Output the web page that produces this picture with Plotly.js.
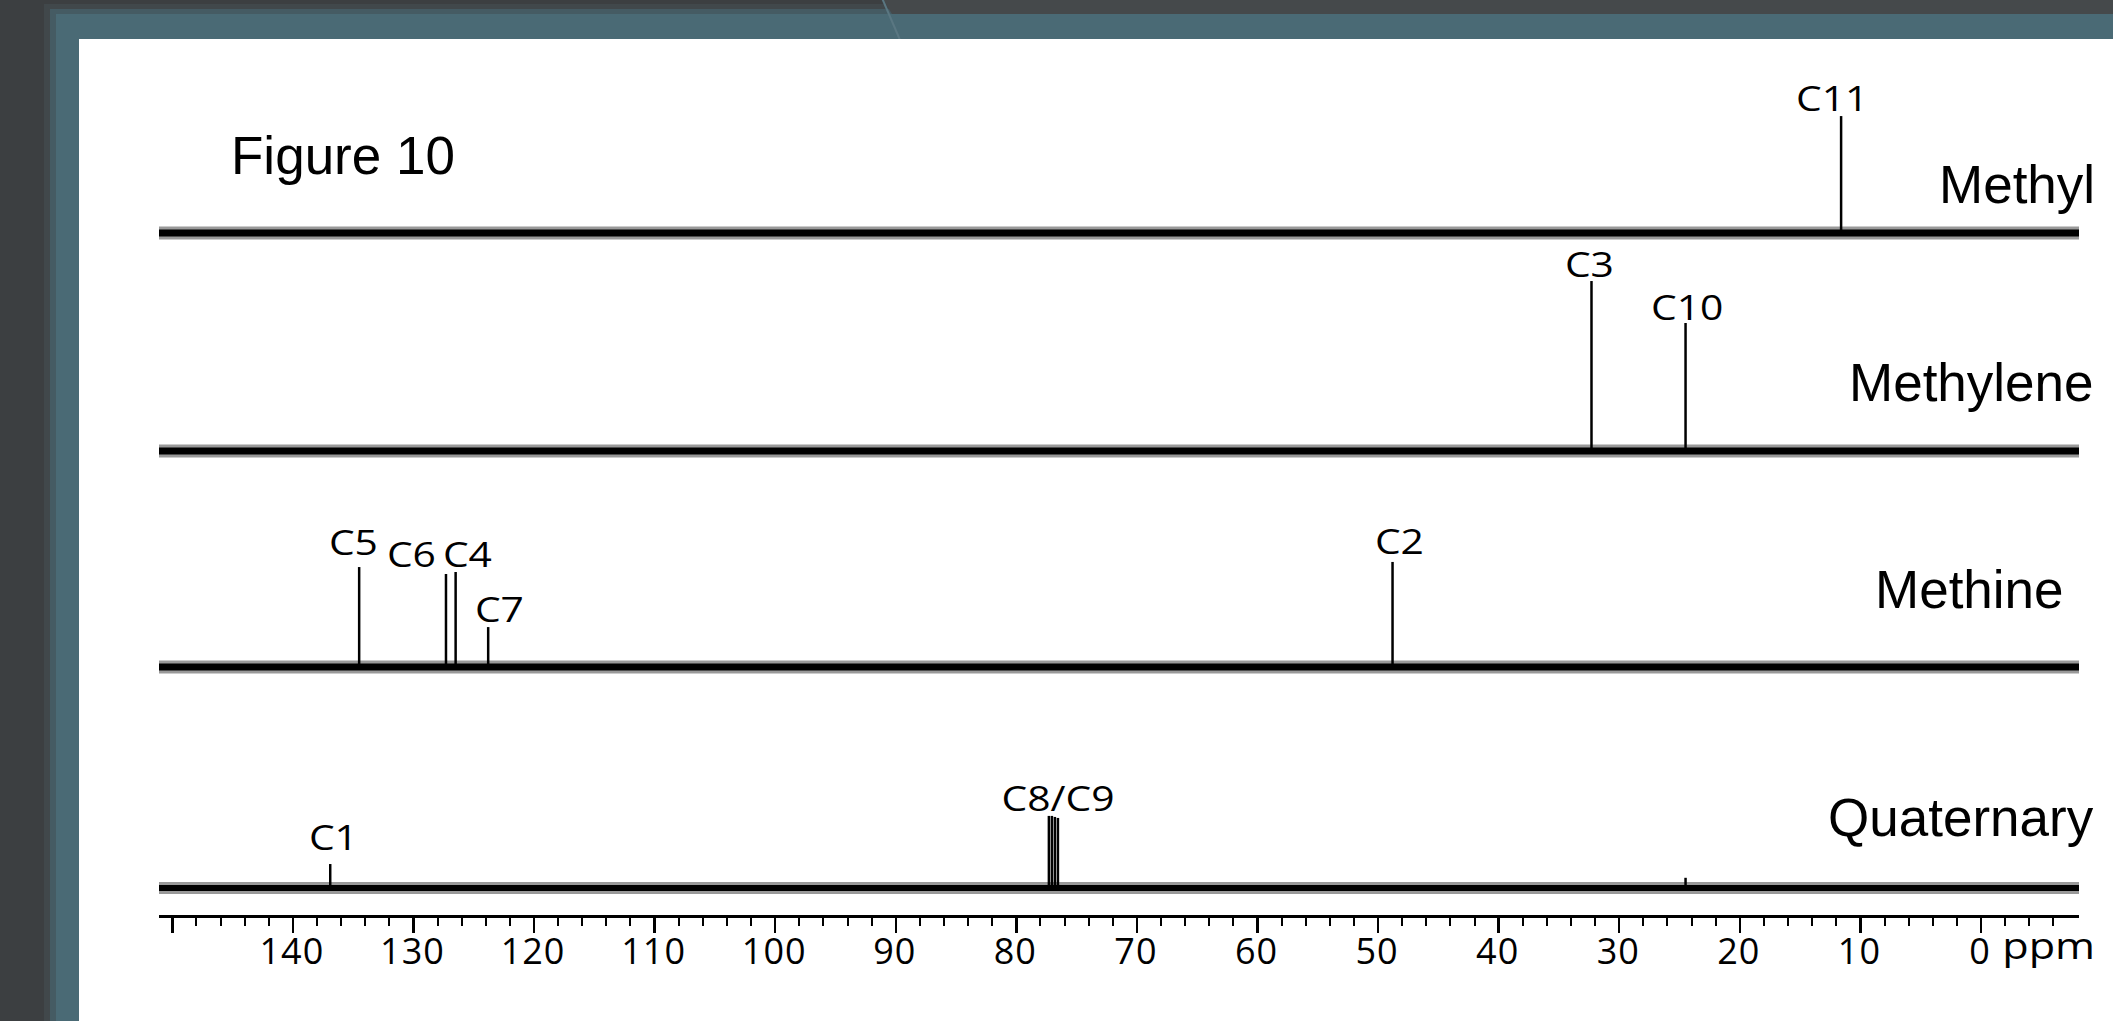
<!DOCTYPE html>
<html><head><meta charset="utf-8">
<script src="https://cdn.plot.ly/plotly-3.0.1.min.js"></script>
<style>
html,body{margin:0;padding:0;background:#3c3f41;overflow:hidden}
#chart{width:2113px;height:1021px}
.xtick text{letter-spacing:1px}
</style>
</head><body><div id="chart"></div><script>
// ---------- DATA ----------
const windowStartPpm = 151.1;   // spectral window (left edge)
const windowEndPpm = -8.13;     // spectral window (right edge)

const spectrumNames = ['Methyl', 'Methylene', 'Methine', 'Quaternary'];

const methylPpm = [11.6];
const methylIntensity = [68.8];
const methylLabels = ['C11'];

const methylenePpm = [32.3, 24.5];
const methyleneIntensity = [100, 75.3];
const methyleneLabels = ['C3', 'C10'];

const methinePpm = [134.5, 127.3, 126.5, 123.8, 48.8];
const methineIntensity = [58.8, 54.7, 55.9, 23.5, 61.8];
const methineLabels = ['C5', 'C6', 'C4', 'C7', 'C2'];

const quaternaryPpm = [136.9, 77.3, 77.05, 76.8, 76.55, 24.5];
const quaternaryIntensity = [14.1, 42.4, 42.4, 41.8, 41.2, 6];
const quaternaryLabels = ['C1', '', 'C8/C9', '', '', ''];

const tickValues = [150, 140, 130, 120, 110, 100, 90, 80, 70, 60, 50, 40, 30, 20, 10, 0];
const tickLabels = ['', '140', '130', '120', '110', '100', '90', '80', '70', '60', '50', '40', '30', '20', '10', '0'];
const axisUnit = 'ppm';
const figureTitle = 'Figure 10';

// ---------- STYLE / LAYOUT ----------
const W = 2113, H = 1021;
const L = 159, R = 2079, T = 20, B = 915;
const pxX = x => (x - L) / (R - L);
const pxY = y => (B - y) / (B - T);

// label offsets (px) relative to the peak top, parallel to the label arrays
const methylShift = [[-9, 18]];
const methyleneShift = [[-2, 17], [1, 16]];
const methineShift = [[-6, 25], [-34, 20], [12, 18], [11, 18], [7, 21]];
const quaternaryShift = [[3, 27], [0, 0], [6, 18], [0, 0], [0, 0], [0, 0]];

const spectra = [
  {ppm: methylPpm, inten: methylIntensity, labels: methylLabels, shift: methylShift, axis: 'y4', base: 7},
  {ppm: methylenePpm, inten: methyleneIntensity, labels: methyleneLabels, shift: methyleneShift, axis: 'y3', base: 7},
  {ppm: methinePpm, inten: methineIntensity, labels: methineLabels, shift: methineShift, axis: 'y2', base: 7},
  {ppm: quaternaryPpm, inten: quaternaryIntensity, labels: quaternaryLabels, shift: quaternaryShift, axis: 'y', base: 6}
];

const traces = [];
const annotations = [];
const stretched = [];
const labelFont = {family: 'Open Sans, Noto Sans, sans-serif', size: 34, color: '#000'};

spectra.forEach(s => {
  // fuzzy halo of the noisy baseline
  traces.push({
    x: [windowStartPpm, windowEndPpm], y: [0, 0], xaxis: 'x', yaxis: s.axis,
    type: 'scatter', mode: 'lines', line: {color: 'rgba(0,0,0,0.4)', width: s.base + 6},
    hoverinfo: 'skip', showlegend: false
  });
  traces.push({
    x: [windowStartPpm, windowEndPpm], y: [0, 0], xaxis: 'x', yaxis: s.axis,
    type: 'scatter', mode: 'lines', line: {color: '#000', width: s.base},
    hoverinfo: 'skip', showlegend: false
  });
  const xs = [], ys = [];
  s.ppm.forEach((p, i) => { xs.push(p, p, null); ys.push(0, s.inten[i], null); });
  traces.push({
    x: xs, y: ys, xaxis: 'x', yaxis: s.axis, type: 'scatter', mode: 'lines',
    line: {color: '#000', width: 2.5}, hoverinfo: 'skip', showlegend: false, connectgaps: false
  });
  s.labels.forEach((lab, i) => {
    if (!lab) return;
    stretched.push(annotations.length);
    annotations.push({
      text: lab, x: s.ppm[i], y: s.inten[i], xref: 'x', yref: s.axis,
      xanchor: 'center', yanchor: 'middle', showarrow: false,
      xshift: s.shift[i][0], yshift: s.shift[i][1], font: labelFont
    });
  });
});

// series names
const nameFont = {family: 'Liberation Sans, Arial, sans-serif', size: 53, color: '#000'};
const namePos = [[2097, 185], [2096, 383], [2066, 589], [2096, 817]];
spectrumNames.forEach((n, i) => {
  annotations.push({text: n, xref: 'paper', yref: 'paper', x: pxX(namePos[i][0]), y: pxY(namePos[i][1]),
    xanchor: 'right', yanchor: 'middle', showarrow: false, font: nameFont});
});
annotations.push({text: figureTitle, xref: 'paper', yref: 'paper', x: pxX(229), y: pxY(155),
  xanchor: 'left', yanchor: 'middle', showarrow: false, font: nameFont});
stretched.push(annotations.length);
annotations.push({text: axisUnit, xref: 'paper', yref: 'paper', x: pxX(2048), y: pxY(946),
  xanchor: 'center', yanchor: 'middle', showarrow: false,
  font: {family: 'Open Sans, Noto Sans, sans-serif', size: 36, color: '#000'}});

const yRange = [-15.88, 112.35];
const yAx = d => ({domain: d, range: yRange, visible: false, fixedrange: true, showgrid: false, zeroline: false});

const minorVals = [];
for (let v = 150; v >= -6; v -= 2) if (v % 10 !== 0) minorVals.push(v);

const P = (x, y) => pxX(x) + ',' + pxY(y);

const layout = {
  width: W, height: H,
  margin: {l: L, r: W - R, t: T, b: H - B, pad: 0},
  paper_bgcolor: '#3c3f41', plot_bgcolor: 'rgba(0,0,0,0)',
  showlegend: false,
  xaxis: {
    range: [windowStartPpm, windowEndPpm], anchor: 'y', showgrid: false, zeroline: false,
    showline: true, linecolor: '#000', linewidth: 2.5,
    ticks: 'outside', ticklen: 15, tickwidth: 2.5, tickcolor: '#000',
    tickmode: 'array', tickvals: tickValues, ticktext: tickLabels,
    tickfont: {family: 'Open Sans, Noto Sans, sans-serif', size: 36, color: '#000'},
    ticklabelstandoff: -12, ticklabelshift: 1,
    minor: {tickmode: 'array', tickvals: minorVals, ticks: 'outside', ticklen: 8, tickwidth: 2, tickcolor: '#000', showgrid: false},
    fixedrange: true
  },
  yaxis: yAx([0, 0.2436]),
  yaxis2: yAx([0.2469, 0.4905]),
  yaxis3: yAx([0.4883, 0.7318]),
  yaxis4: yAx([0.7318, 0.9754]),
  annotations: annotations,
  shapes: [
    {type: 'rect', xref: 'paper', yref: 'paper', x0: pxX(44), x1: pxX(W + 5), y0: pxY(H + 5), y1: pxY(4), fillcolor: '#41484b', line: {width: 0}, layer: 'below'},
    {type: 'rect', xref: 'paper', yref: 'paper', x0: pxX(50), x1: pxX(W + 5), y0: pxY(H + 5), y1: pxY(9), fillcolor: '#455b63', line: {width: 0}, layer: 'below'},
    {type: 'rect', xref: 'paper', yref: 'paper', x0: pxX(56), x1: pxX(W + 5), y0: pxY(H + 5), y1: pxY(14), fillcolor: '#4a6a75', line: {width: 0}, layer: 'below'},
    {type: 'path', xref: 'paper', yref: 'paper', path: 'M' + P(882, -2) + 'L' + P(W + 5, -2) + 'L' + P(W + 5, 14) + 'L' + P(892, 14) + 'Z', fillcolor: '#45494b', line: {width: 0}, layer: 'below'},
    {type: 'path', xref: 'paper', yref: 'paper', path: 'M' + P(882, -2) + 'L' + P(900, 40), line: {color: '#5a7782', width: 2}, layer: 'below'},
    {type: 'rect', xref: 'paper', yref: 'paper', x0: pxX(79), x1: pxX(W + 5), y0: pxY(H + 5), y1: pxY(39), fillcolor: '#ffffff', line: {width: 0}, layer: 'below'}
  ]
};

Plotly.newPlot('chart', traces, layout, {displayModeBar: false, staticPlot: true}).then(gd => {
  const groups = gd.querySelectorAll('g.annotation');
  groups.forEach(g => {
    const idx = +g.getAttribute('data-index');
    if (stretched.indexOf(idx) >= 0) {
      const t = g.querySelector('text.annotation-text');
      if (t) {
        t.style.transformBox = 'fill-box';
        t.style.transformOrigin = 'center';
        t.style.transform = 'scaleX(1.2)';
      }
    }
  });
});
</script></body></html>
